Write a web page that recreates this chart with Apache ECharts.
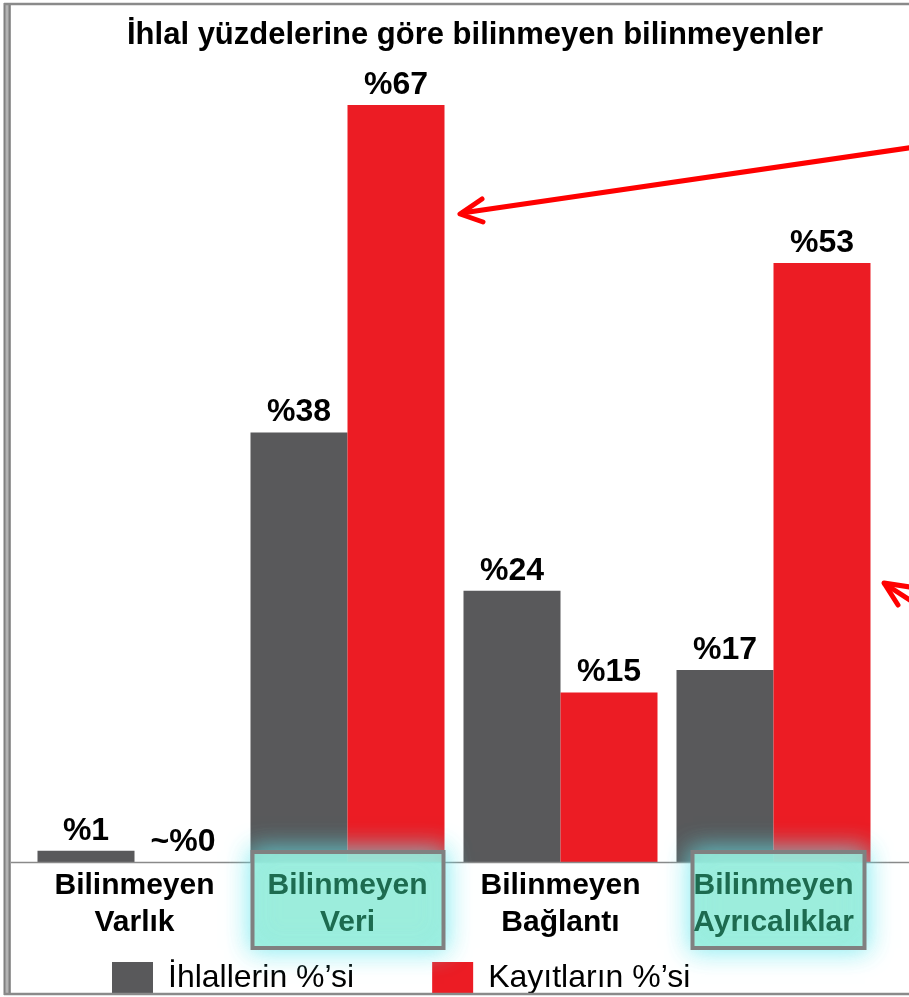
<!DOCTYPE html>
<html><head><meta charset="utf-8">
<script src="https://cdn.jsdelivr.net/npm/echarts@6/dist/echarts.min.js"></script>
<style>html,body{margin:0;padding:0;background:#fff}#c{width:909px;height:997px}</style>
</head><body><div id="c"></div>
<script>
var titleText = 'İhlal yüzdelerine göre bilinmeyen bilinmeyenler';
var categories = ['Bilinmeyen\nVarlık', 'Bilinmeyen\nVeri', 'Bilinmeyen\nBağlantı', 'Bilinmeyen\nAyrıcalıklar'];
var highlighted = [1, 3];
var seriesNames = ['İhlallerin %’si', 'Kayıtların %’si'];
var breachValues = [1, 38, 24, 17];
var recordValues = [0, 67, 15, 53];
var breachLabels = ['%1', '%38', '%24', '%17'];
var recordLabels = ['~%0', '%67', '%15', '%53'];

var FONT = '"Liberation Sans", Arial, sans-serif';
var chart = echarts.init(document.getElementById('c'));

function labelOf(arr) {
  return {
    show: true, position: 'top', distance: 4,
    fontFamily: FONT, fontSize: 32, fontWeight: 'bold', color: '#000',
    formatter: function (p) { return arr[p.dataIndex]; }
  };
}

var option = {
  animation: false,
  title: {
    text: titleText, left: 122, top: 15,
    textStyle: { fontFamily: FONT, fontSize: 31, fontWeight: 'bold', color: '#000' }
  },
  legend: {
    left: 107, top: 957, itemWidth: 41, itemHeight: 33, itemGap: 78,
    icon: 'rect', selectedMode: false,
    textStyle: { fontFamily: FONT, fontSize: 32, color: '#000', padding: [0, 0, 0, 10] },
    data: seriesNames
  },
  grid: { left: 28, right: 29, top: 71, bottom: 135, containLabel: false },
  xAxis: {
    type: 'category', data: categories, z: 10,
    axisLine: { show: false }, axisTick: { show: false },
    axisLabel: {
      margin: 5, interval: 0,
      formatter: function (v, i) {
        return (highlighted.indexOf(i) >= 0 ? '{h|' : '{n|') + v + '}';
      },
      rich: {
        n: { fontFamily: FONT, fontSize: 30, fontWeight: 'bold', color: '#000', lineHeight: 37 },
        h: { fontFamily: FONT, fontSize: 30, fontWeight: 'bold', color: '#1d6b50', lineHeight: 37 }
      }
    }
  },
  yAxis: {
    type: 'value', min: 0, max: 70, show: false,
    splitLine: { show: false }
  },
  series: [
    { name: seriesNames[0], type: 'bar', data: breachValues, barWidth: 97, barGap: '0%', z: 2,
      itemStyle: { color: '#59595b' }, label: labelOf(breachLabels) },
    { name: seriesNames[1], type: 'bar', data: recordValues, barWidth: 97, barGap: '0%', z: 2,
      itemStyle: { color: '#ec1c24' }, label: labelOf(recordLabels) }
  ]
};
chart.setOption(option);

// decorations: highlight boxes positioned from the category axis
var base = chart.convertToPixel({ gridIndex: 0 }, [0, 0])[1];
var graphics = [];
highlighted.forEach(function (ci, k) {
  var cx = chart.convertToPixel({ xAxisIndex: 0 }, ci);
  var w = k === 0 ? 191 : 172;
  var x0 = k === 0 ? cx - 95 : cx - 81;
  graphics.push({
    type: 'rect', z: 5,
    shape: { x: x0, y: base - 10, width: w, height: 96 },
    style: { fill: 'rgba(162,238,216,0.86)', stroke: '#808080', lineWidth: 4,
             shadowBlur: 24, shadowColor: 'rgba(100,232,238,0.95)' }
  });
});
// baseline
graphics.push({ type: 'line', z: 4, shape: { x1: 11, y1: base + 0.5, x2: 909, y2: base + 0.5 },
  style: { stroke: '#8a8a8a', lineWidth: 1.5 } });
// frame
graphics.push({ type: 'rect', z: 20, shape: { x: 4, y: 4, width: 7, height: 989 },
  style: { fill: '#b4b4b4', stroke: null } });
graphics.push({ type: 'line', z: 21, shape: { x1: 4.5, y1: 3, x2: 4.5, y2: 995 }, style: { stroke: '#808080', lineWidth: 2 } });
graphics.push({ type: 'line', z: 21, shape: { x1: 9.5, y1: 3, x2: 9.5, y2: 995 }, style: { stroke: '#808080', lineWidth: 2 } });
graphics.push({ type: 'line', z: 21, shape: { x1: 4, y1: 4, x2: 909, y2: 4 }, style: { stroke: '#8a8a8a', lineWidth: 2.5 } });
graphics.push({ type: 'line', z: 21, shape: { x1: 4, y1: 994, x2: 909, y2: 994 }, style: { stroke: '#8a8a8a', lineWidth: 2.5 } });
// arrows
var arrowStyle = { stroke: '#ff0000', lineWidth: 5, lineCap: 'round', lineJoin: 'round', fill: null };
graphics.push({ type: 'line', z: 22, shape: { x1: 462, y1: 213, x2: 915, y2: 147 }, style: arrowStyle });
graphics.push({ type: 'polyline', z: 22, shape: { points: [[482, 199], [460, 214], [483, 222]] }, style: arrowStyle });
graphics.push({ type: 'line', z: 22, shape: { x1: 885, y1: 584, x2: 925, y2: 610 }, style: arrowStyle });
graphics.push({ type: 'polyline', z: 22, shape: { points: [[910, 587], [884, 583], [898, 605]] }, style: arrowStyle });

chart.setOption({ graphic: { elements: graphics } });
</script></body></html>
